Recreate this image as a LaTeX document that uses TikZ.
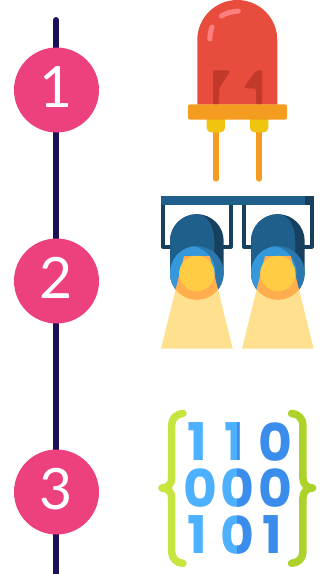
\documentclass[tikz,border=0pt]{standalone}
\usepackage{fontspec}
\setmainfont{Lato}
\newfontfamily\bitfont{Poppins}
\definecolor{pinkc}{HTML}{EC407F}
\definecolor{linec}{HTML}{1A1257}
\definecolor{redc}{HTML}{E74C3C}
\definecolor{reddk}{HTML}{C0392B}
\definecolor{redhi}{HTML}{FF7F7F}
\definecolor{orgc}{HTML}{F39C1F}
\definecolor{yelc}{HTML}{F1C40F}
\definecolor{barc}{HTML}{1F5F8B}
\definecolor{bardk}{HTML}{17405F}
\definecolor{bluec}{HTML}{3498DB}
\definecolor{bluedk}{HTML}{2A78AE}
\definecolor{beamc}{HTML}{FFE08F}
\definecolor{beamo}{HTML}{FFAE4D}
\definecolor{beamy}{HTML}{FFCC44}
\definecolor{bitl}{HTML}{4DB1FF}
\definecolor{bitd}{HTML}{3B8DEB}
\definecolor{brl}{HTML}{C6E53F}
\definecolor{brd}{HTML}{ACD22B}
\tikzset{
  numdot/.style={circle,fill=pinkc,text=white,minimum size=85pt,inner sep=0pt,text height=41pt,text depth=6pt,font=\fontsize{57}{57}\selectfont},
  bit/.style={inner sep=0pt,font=\bitfont\bfseries\fontsize{52}{52}\selectfont},
  brace/.style={line width=7.5pt,line cap=round,line join=round},
  frm/.style={draw=bardk,line width=4pt,line join=round,line cap=round},
  leg/.style={draw=orgc,line width=6pt,line cap=round}
}
\newcommand{\spot}[1]{%
\begin{scope}[xshift=#1pt]
  \draw[frm] (163,205) -- (163,246.6) -- (230.6,246.6) -- (230.6,205);
  \fill[bardk] (170,273) -- (170,241) arc[start angle=180,end angle=360,radius=26.85] -- (223.7,273) arc[start angle=0,end angle=180,radius=26.85] -- cycle;
  \fill[barc] (170,273) -- (170,241) arc[start angle=180,end angle=270,radius=26.85] .. controls (207,214) and (214.3,226) .. (214.3,241) -- (214.3,273) -- cycle;
  \fill[bluedk] (196.85,273) circle[radius=26.85];
  \begin{scope}
    \clip (196.85,273) circle[radius=26.85];
    \fill[bluec] (188,273) circle[radius=27.5];
  \end{scope}
  \fill[beamc] (161,348.7) -- (176,288) -- (217.7,288) -- (232.7,348.7) -- cycle;
  \begin{scope}
    \clip (161,348.7) -- (184,256) -- (209.7,256) -- (232.7,348.7) -- cycle;
    \fill[beamo] (196.85,273) circle[radius=26.85];
  \end{scope}
  \fill[beamy] (196.85,273.5) circle[radius=17.7];
\end{scope}}
\begin{document}
\begin{tikzpicture}[x=1pt,y=1pt,yscale=-1]
\useasboundingbox (0,0) rectangle (326,574);
% timeline
\coordinate (lineTop) at (56,20);
\coordinate (lineEnd) at (56,574);
\draw[linec,line width=6pt,line cap=round] (lineTop) -- (56,560);
\draw[linec,line width=6pt] (56,560) -- (lineEnd);
\node[numdot] (n1) at (56.5,90) {1};
\node[numdot] (n2) at (56.5,281) {2};
\node[numdot] (n3) at (56.5,492) {3};
% LED
\fill[redc] (197.3,104.5) -- (197.3,40) arc[start angle=180,end angle=360,radius=40] -- (277.3,104.5) -- cycle;
\draw[redhi,line width=5pt,line cap=round] (221.5,16) .. controls (226,13) and (232,11.5) .. (238.3,11);
\draw[redhi,line width=5pt,line cap=round] (212,27) .. controls (210.5,31) and (210,35) .. (209.8,39);
\fill[reddk,rounded corners=2pt] (213,104.5) -- (213,70.3) -- (230.5,70.3) -- (219,88.5) -- (219,104.5) -- cycle;
\fill[reddk,rounded corners=2pt] (262,104.5) -- (262,70.3) -- (256.5,70.3) -- (244,87) -- (245.5,88.3) -- (256,88.3) -- (256,104.5) -- cycle;
\draw[leg] (216,130) -- (216,178.7);
\draw[leg] (259,130) -- (259,178.7);
\fill[yelc] (206.7,118) -- (225,118) -- (225,128) arc[start angle=0,end angle=90,radius=4.3] -- (211,132.3) arc[start angle=90,end angle=180,radius=4.3] -- cycle;
\fill[yelc] (250,118) -- (268.3,118) -- (268.3,128) arc[start angle=0,end angle=90,radius=4.3] -- (254.3,132.3) arc[start angle=90,end angle=180,radius=4.3] -- cycle;
\fill[orgc,rounded corners=2pt] (188,104.3) rectangle (287,119.7);
% spotlights
\spot{0}
\spot{81}
\fill[barc] (161,196) rectangle (305,205);
\fill[bardk] (305,196) rectangle (314,205);
% brackets
\draw[brl,brace] (183,413.5) arc[start angle=-90,end angle=-180,radius=11.3] -- (171.7,478) .. controls (171.7,484) and (168,488) .. (162,488) .. controls (168,488) and (171.7,492) .. (171.7,498) -- (171.7,552) arc[start angle=180,end angle=90,radius=11.3];
\draw[brd,brace] (291.6,413.5) arc[start angle=-90,end angle=0,radius=11.3] -- (302.9,478) .. controls (302.9,484) and (306.6,488) .. (312.6,488) .. controls (306.6,488) and (302.9,492) .. (302.9,498) -- (302.9,552) arc[start angle=0,end angle=90,radius=11.3];
% bits
\node[bit,text=bitl] (b11) at (197,442) {1};
\node[bit,text=bitd] (b13) at (275,442) {0};
\node[bit,text=bitl] (b21) at (200,488) {0};
\node[bit,text=bitd] (b23) at (275,488) {0};
\node[bit,text=bitl] (b31) at (197,535) {1};
\node[bit,text=bitd] (b33) at (272,535) {1};
\begin{scope}
  \clip (220,410) rectangle (237.3,560);
  \node[bit,text=bitl] at (234.3,442) {1};
  \node[bit,text=bitl] at (237.3,488) {0};
  \node[bit,text=bitl] at (237.3,535) {0};
\end{scope}
\begin{scope}
  \clip (237.3,410) rectangle (256,560);
  \node[bit,text=bitd] at (234.3,442) {1};
  \node[bit,text=bitd] at (237.3,488) {0};
  \node[bit,text=bitd] at (237.3,535) {0};
\end{scope}
\end{tikzpicture}
\end{document}
